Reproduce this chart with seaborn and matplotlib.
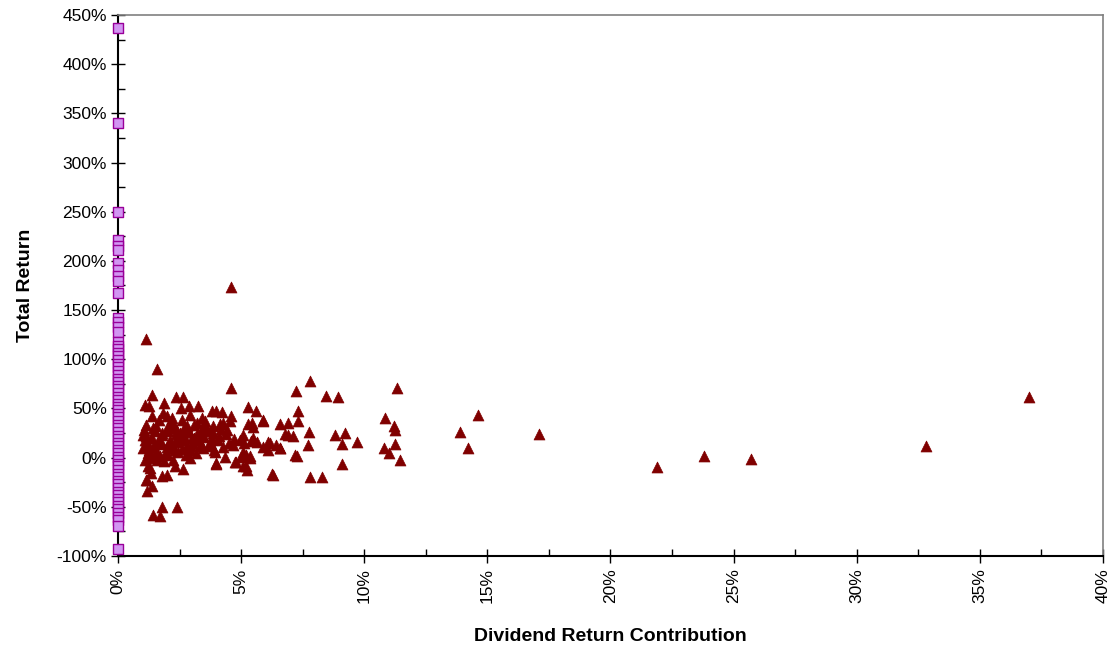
import pandas as pd
import seaborn as sns
import matplotlib.pyplot as plt
from matplotlib.ticker import MultipleLocator, PercentFormatter

# dividend payers: (dividend contribution %, total return %)
div_x = [4.59, 1.14, 1.58, 4.59, 7.8, 7.23, 11.33, 8.45, 8.93, 14.62, 10.84, 13.9, 17.1, 14.2,
         21.9, 23.8, 25.7, 32.8, 37.0, 11.45, 11.25, 11.25, 11.2, 10.8, 11.0, 9.7, 9.2, 9.1, 9.1,
         8.8, 8.3, 7.8, 7.75, 7.7, 7.3, 7.3, 7.1, 7.2, 6.9, 6.8, 6.6, 6.25, 6.4, 6.1, 6.1, 5.9,
         5.6, 5.5, 5.4, 5.3, 5.3, 5.2, 5.2, 5.1, 5.0, 4.8, 4.7,
         1.37, 1.1, 1.27, 1.87, 2.34, 2.64, 2.55, 2.9, 3.25, 3.83, 4.0, 4.24, 4.6, 1.38, 1.84,
         1.98, 2.92, 1.14, 1.44, 2.25, 3.2, 3.53, 4.55, 5.43, 5.9, 6.58, 6.92, 1.03, 1.77, 2.52,
         3.33, 3.87, 4.41, 5.09, 5.5, 6.17, 6.58, 1.03, 1.44, 1.98, 2.92, 3.46, 4.28, 4.68, 5.09,
         5.36, 1.1, 1.57, 2.25, 2.92, 4.0, 4.75, 1.3, 1.77, 1.98, 2.31, 2.65, 1.16, 1.37, 1.16,
         1.41, 1.7, 1.77, 2.38, 6.28, 5.23, 5.09, 5.9, 5.63, 4.95, 4.07, 3.74, 3.06, 2.65, 2.11,
         1.7, 1.16, 4.28, 3.87, 3.46, 2.79, 1.98, 2.38, 1.14, 1.33, 1.23, 3.98, 4.35, 5.36, 7.26,
         1.05, 1.08, 1.12, 1.2, 1.25, 1.5, 1.6, 1.65, 1.9, 2.05, 2.15, 2.2, 2.4, 2.45, 2.6, 2.7,
         2.75, 2.85, 3.0, 3.1, 3.15, 3.3, 3.4, 3.6, 3.7, 3.8, 3.95, 4.1, 4.2, 4.4, 4.5, 1.55,
         1.75, 1.95, 2.1, 2.3, 2.5, 2.7, 2.95, 3.2, 3.5, 3.75, 4.15, 1.35, 1.45, 1.85, 2.35, 2.8,
         1.15, 1.25, 1.6, 1.8, 2.0, 2.2, 2.45, 2.6, 2.9, 3.1, 3.35, 3.55, 3.9, 1.4, 1.7, 2.15]
div_y = [173, 121, 90, 71, 78, 68, 71, 63, 62, 43.6, 40.5, 26, 24, 10,
         -10, 2, -1, 12, 62, -2, 28, 14, 32, 10, 5, 16, 25, 14, -6,
         23, -20, -20, 26, 13, 47, 37, 22, 3, 35, 24, 10, -17, 13, 16, 8, 38,
         47, 31, 17, 51, 34, 3, -8, 15, 1, -4, 19,
         64, 54, 53, 55.5, 62, 61.6, 50, 52, 52.8, 47, 47, 46, 42.6, 42.6, 45,
         42, 43.6, 33.4, 30, 35, 35, 36.8, 36.8, 35, 36.8, 34, 23, 23, 23, 25,
         25, 25, 28.3, 23, 20, 14.8, 9.7, 9.7, 11.3, 11.3, 8, 9.7, 11.3, 13, 6.2,
         -0.5, -2.2, -2.2, -2.2, -0.5, -5.6, -4, -10.7, -19, -17.5, -9, -11.7, -22.6, -28.7, -33.5,
         -58, -59, -50.4, -49.8, -18, -12.4, -9, 11.3, 16.4, 18, 18, 16.4, 14.8, 18, 18,
         18, 16.4, 35, 31.7, 30, 31.7, 30, 26.6, -22.6, -15.8, -9, -6.6, 1, 2, 2,
         28, 18, 12, 5, 0, 27, 6, 38, 4, 27, 14, 40, 20, 6, 38, 22,
         3, 28, 20, 33, 5, 18, 40, 29, 12, 19, 6, 22, 29, 24, 15, 32,
         14, 3, 33, 8, 21, 30, 12, 24, 21, 27, 34, 20, 2, -3, 24, 13,
         22, 8, 15, 25, 5, 30, 16, 9, 26, 20, 12, 30, 8, 20, 2, 10]

# non-payers plotted on the zero line
zero_x = [0] * 68
zero_y = [437, 340, 250, 221, 215, 211, 198, 191, 185, 180, 167, 142, 137.6, 132.9, 128,
          118, 113, 110, 106, 103, 99, 95, 92, 88, 84, 80, 77, 73, 70, 66, 62, 59, 55, 51,
          48, 44, 41, 37, 33, 30, 26, 22, 19, 15, 12, 8, 5, 1, -2, -6, -9, -13, -17, -20,
          -24, -27, -31, -35, -38, -42, -45, -49, -52, -56, -60, -63, -70, -93]

payers = pd.DataFrame({'x': div_x, 'y': div_y})
nonpayers = pd.DataFrame({'x': zero_x, 'y': zero_y})

sns.set_style("white")
plt.rcParams['font.family'] = ['Liberation Sans', 'DejaVu Sans']
plt.rcParams['axes.unicode_minus'] = False
plt.rcParams['text.color'] = 'black'
plt.rcParams['axes.labelcolor'] = 'black'
plt.rcParams['xtick.color'] = 'black'
plt.rcParams['ytick.color'] = 'black'

fig = plt.figure(figsize=(11.16, 6.49), dpi=100)
ax = fig.add_axes([0.1057, 0.1433, 0.8826, 0.8336])

sns.scatterplot(x='x', y='y', data=nonpayers, marker='s', s=46, color='#D295F2',
                edgecolor='#990099', linewidth=1.0, clip_on=False, zorder=4, ax=ax)
sns.scatterplot(x='x', y='y', data=payers, marker='^', s=62, color='#800000',
                edgecolor='#800000', linewidth=0.5, clip_on=False, zorder=3, ax=ax)

ax.set_xlim(0, 40)
ax.set_ylim(-100, 450)
ax.xaxis.set_major_locator(MultipleLocator(5))
ax.xaxis.set_minor_locator(MultipleLocator(2.5))
ax.yaxis.set_major_locator(MultipleLocator(50))
ax.yaxis.set_minor_locator(MultipleLocator(25))
ax.xaxis.set_major_formatter(PercentFormatter(decimals=0))
ax.yaxis.set_major_formatter(PercentFormatter(decimals=0))

ax.tick_params(which='major', direction='inout', length=10, width=1, color='black',
               labelsize=12.5, labelcolor='black', bottom=True, left=True)
ax.tick_params(which='minor', direction='in', length=5, width=1, color='black',
               bottom=True, left=True)
ax.tick_params(axis='x', which='major', labelrotation=90, pad=4)
ax.tick_params(axis='y', which='major', pad=3)

for side in ['left', 'bottom']:
    ax.spines[side].set_color('black')
    ax.spines[side].set_linewidth(1.5)
for side in ['top', 'right']:
    ax.spines[side].set_color('#808080')
    ax.spines[side].set_linewidth(1.2)

ax.set_xlabel('Dividend Return Contribution', fontsize=14, fontweight='bold', labelpad=18)
ax.set_ylabel('Total Return', fontsize=14, fontweight='bold', labelpad=16)

fig.savefig('out.png', dpi=100)
